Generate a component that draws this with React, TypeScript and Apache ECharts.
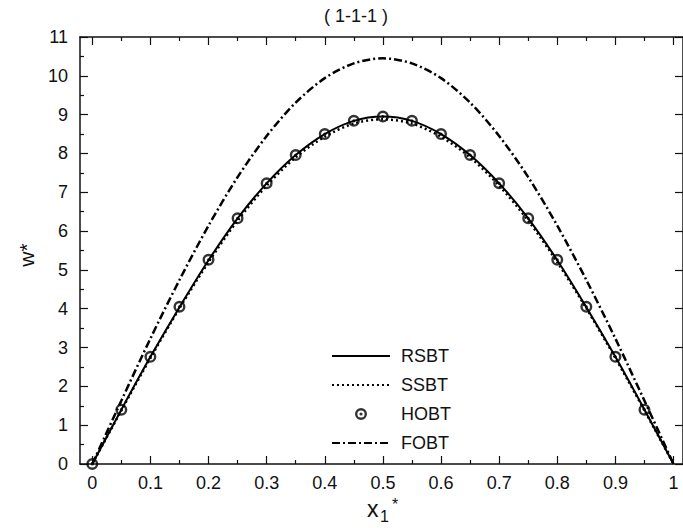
import React, { useEffect, useRef } from "react";
import * as echarts from "echarts";

const xValues = [0, 0.05, 0.1, 0.15, 0.2, 0.25, 0.3, 0.35, 0.4, 0.45, 0.5, 0.55, 0.6, 0.65, 0.7, 0.75, 0.8, 0.85, 0.9, 0.95, 1];
const rsbt = [0, 1.40, 2.76, 4.04, 5.25, 6.33, 7.23, 7.96, 8.50, 8.84, 8.95, 8.84, 8.50, 7.96, 7.23, 6.33, 5.25, 4.04, 2.76, 1.40, 0];
const ssbt = [0, 1.38, 2.73, 4.01, 5.20, 6.27, 7.17, 7.90, 8.43, 8.77, 8.88, 8.77, 8.43, 7.90, 7.17, 6.27, 5.20, 4.01, 2.73, 1.38, 0];
const fobt = [0, 1.63, 3.23, 4.74, 6.14, 7.39, 8.45, 9.31, 9.94, 10.32, 10.45, 10.32, 9.94, 9.31, 8.45, 7.39, 6.14, 4.74, 3.23, 1.63, 0];
const hobtX = [0, 0.05, 0.1, 0.15, 0.2, 0.25, 0.3, 0.35, 0.4, 0.45, 0.5, 0.55, 0.6, 0.65, 0.7, 0.75, 0.8, 0.85, 0.9, 0.95];
const hobt = [0, 1.40, 2.76, 4.05, 5.26, 6.33, 7.23, 7.96, 8.50, 8.84, 8.95, 8.84, 8.50, 7.96, 7.23, 6.33, 5.26, 4.05, 2.76, 1.40];
const xMajorTicks = [0, 0.1, 0.2, 0.3, 0.4, 0.5, 0.6, 0.7, 0.8, 0.9, 1];
const xMinorTicks = [0.05, 0.15, 0.25, 0.35, 0.45, 0.55, 0.65, 0.75, 0.85, 0.95];
const seriesNames = ["RSBT", "SSBT", "HOBT", "FOBT"];
const titleText = "( 1-1-1 )";

const FONT = "Liberation Sans";
const INK = "#111";

const ringDot =
  "path://M0,-6 A6,6 0 1,1 0,6 A6,6 0 1,1 0,-6 Z M0,-3.6 A3.6,3.6 0 1,0 0,3.6 A3.6,3.6 0 1,0 0,-3.6 Z M0,-1.6 A1.6,1.6 0 1,1 0,1.6 A1.6,1.6 0 1,1 0,-1.6 Z";

export default function App() {
  const ref = useRef<HTMLDivElement>(null);
  useEffect(() => {
    if (!ref.current) return;
    const chart = echarts.init(ref.current, null, { renderer: "svg" });
    const pair = (xs: number[], ys: number[]) => xs.map((x, i) => [x, ys[i]]);
    const xmin = -0.0211;
    const xmax = 1.0163;
    const baseX = {
      type: "value",
      min: xmin,
      max: xmax,
      splitLine: { show: false },
    };
    const txt = (text: string, size: number, extra: any = {}) => ({
      text,
      fontSize: size,
      fontFamily: FONT,
      fill: INK,
      ...extra,
    });
    const option: any = {
      animation: false,
      backgroundColor: "#fff",
      grid: { left: 80, top: 37, width: 606, height: 427, containLabel: false },
      legend: {
        orient: "vertical",
        left: 326,
        top: 342,
        itemWidth: 58,
        itemHeight: 12,
        itemGap: 11,
        data: [
          { name: seriesNames[0], itemStyle: { opacity: 0 } },
          { name: seriesNames[1], itemStyle: { opacity: 0 } },
          { name: seriesNames[2] },
          { name: seriesNames[3], itemStyle: { opacity: 0 } },
        ],
        textStyle: { fontFamily: FONT, fontSize: 18, color: INK, lineHeight: 18, padding: [0, 0, 0, 6] },
      },
      xAxis: [
        {
          ...baseX,
          position: "bottom",
          axisLine: { show: true, onZero: false, lineStyle: { color: INK, width: 1.5 } },
          axisTick: { show: true, inside: true, length: 8, customValues: xMajorTicks, lineStyle: { color: INK, width: 1.2 } },
          axisLabel: {
            show: true,
            customValues: xMajorTicks,
            margin: 10,
            fontFamily: FONT,
            fontSize: 18,
            color: INK,
            formatter: (v: number) => String(+v.toFixed(2)),
          },
        },
        {
          ...baseX,
          position: "bottom",
          axisLine: { show: false, onZero: false },
          axisTick: { show: true, inside: true, length: 4, customValues: xMinorTicks, lineStyle: { color: INK, width: 1.2 } },
          axisLabel: { show: false },
        },
        {
          ...baseX,
          position: "top",
          axisLine: { show: true, onZero: false, lineStyle: { color: INK, width: 1.5 } },
          axisTick: { show: true, inside: true, length: 8, customValues: xMajorTicks, lineStyle: { color: INK, width: 1.2 } },
          axisLabel: { show: false },
        },
        {
          ...baseX,
          position: "top",
          axisLine: { show: false, onZero: false },
          axisTick: { show: true, inside: true, length: 4, customValues: xMinorTicks, lineStyle: { color: INK, width: 1.2 } },
          axisLabel: { show: false },
        },
      ],
      yAxis: [
        {
          type: "value",
          min: 0,
          max: 11,
          interval: 1,
          position: "left",
          splitLine: { show: false },
          axisLine: { show: true, onZero: false, lineStyle: { color: INK, width: 1.5 } },
          axisTick: { show: true, inside: true, length: 8, lineStyle: { color: INK, width: 1.2 } },
          minorTick: { show: true, splitNumber: 2, length: 4, lineStyle: { color: INK, width: 1.2 } },
          minorSplitLine: { show: false },
          axisLabel: { margin: 12, fontFamily: FONT, fontSize: 18, color: INK },
        },
        {
          type: "value",
          min: 0,
          max: 11,
          interval: 1,
          position: "right",
          splitLine: { show: false },
          axisLine: { show: true, onZero: false, lineStyle: { color: INK, width: 1.5 } },
          axisTick: { show: true, inside: true, length: 8, lineStyle: { color: INK, width: 1.2 } },
          axisLabel: { show: false },
        },
      ],
      series: [
        {
          name: "RSBT",
          type: "line",
          data: pair(xValues, rsbt),
          smooth: 0.3,
          symbol: "none",
          lineStyle: { color: "#000", width: 2 },
          itemStyle: { color: "#000" },
          z: 3,
        },
        {
          name: "SSBT",
          type: "line",
          data: pair(xValues, ssbt),
          smooth: 0.3,
          symbol: "none",
          lineStyle: { color: "#000", width: 2.5, type: [2, 3] },
          itemStyle: { color: "#000" },
          z: 2,
        },
        {
          name: "HOBT",
          type: "scatter",
          data: pair(hobtX, hobt),
          symbol: ringDot,
          symbolSize: 12,
          itemStyle: { color: "#000" },
          z: 4,
        },
        {
          name: "FOBT",
          type: "line",
          data: pair(xValues, fobt),
          smooth: 0.3,
          symbol: "none",
          lineStyle: { color: "#000", width: 2.5, type: [8, 3, 2, 3] },
          itemStyle: { color: "#000" },
          z: 2,
        },
      ],
      graphic: [
        {
          type: "text",
          x: 356,
          y: 16,
          style: txt(titleText, 18, { align: "center", verticalAlign: "middle" }),
        },
        {
          type: "text",
          x: 26,
          y: 255,
          rotation: Math.PI / 2,
          style: txt("w*", 21, { align: "center", verticalAlign: "middle" }),
        },
        {
          type: "text",
          x: 367,
          y: 497,
          style: txt("x", 23),
        },
        {
          type: "text",
          x: 380,
          y: 508,
          style: txt("1", 16),
        },
        {
          type: "text",
          x: 392,
          y: 496,
          style: txt("*", 16),
        },
      ],
    };
    chart.setOption(option);
    return () => chart.dispose();
  }, []);
  return (
    <div
      ref={ref}
      style={{ position: "fixed", left: 0, top: 0, width: 683, height: 528, background: "#fff" }}
    />
  );
}
